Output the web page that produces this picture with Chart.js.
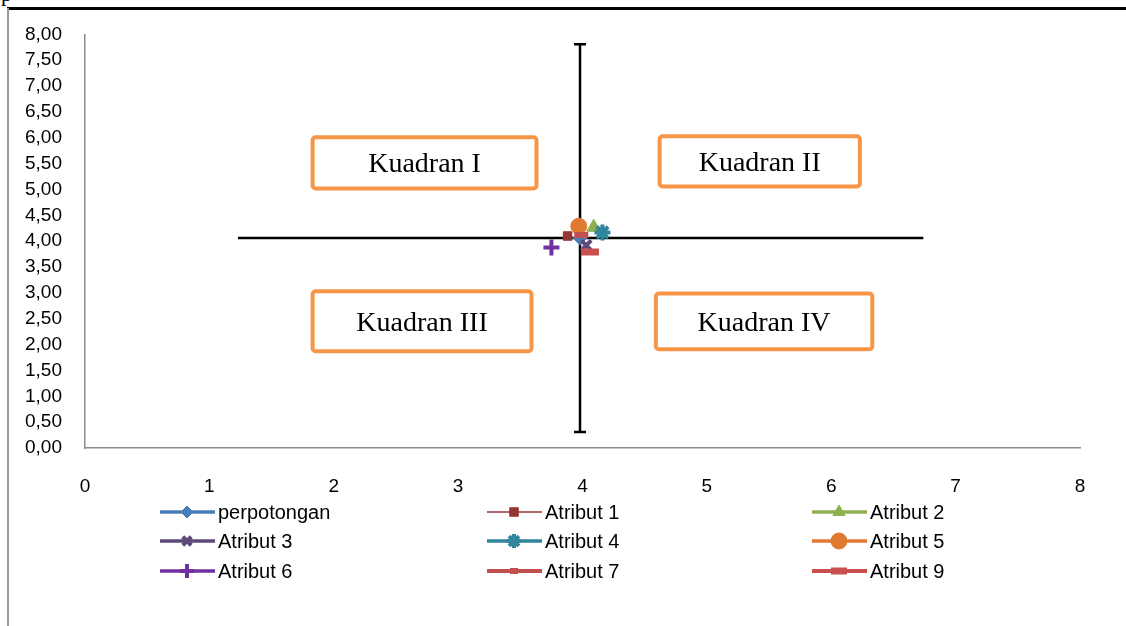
<!DOCTYPE html>
<html>
<head>
<meta charset="utf-8">
<script src="https://cdn.jsdelivr.net/npm/chart.js@4/dist/chart.umd.min.js"></script>
<style>
  html, body { margin: 0; padding: 0; background: #fff; }
  #wrap { position: relative; width: 1126px; height: 626px; overflow: hidden; }
  #topRule { position: absolute; left: 7px; top: 7px; width: 1119px; height: 3px; background: #000; }
  #leftRule { position: absolute; left: 7px; top: 8px; width: 2px; height: 618px; background: #9a9a9a; }
  #cut { position: absolute; left: 1px; top: -19px; font: 22px "Liberation Serif", serif; }
  canvas { position: absolute; left: 0; top: 0; }
</style>
</head>
<body>
<div id="wrap">
  <span id="cut">p</span>
  <div id="topRule"></div>
  <div id="leftRule"></div>
  <canvas id="quadChart" width="1126" height="626"></canvas>
</div>
<script>
// series
const seriesNames = ["perpotongan", "Atribut 1", "Atribut 2", "Atribut 3", "Atribut 4",
                     "Atribut 5", "Atribut 6", "Atribut 7", "Atribut 9"];
const xValues = [3.98, 3.88, 4.09, 4.03, 4.16, 3.97, 3.75, 3.99, 4.06];
const yValues = [4.06, 4.10, 4.27, 3.92, 4.17, 4.29, 3.88, 4.12, 3.79];
// error bars of the "perpotongan" point (the quadrant cross)
const crossXRange = [1.23, 6.74];
const crossYRange = [0.31, 7.81];
const quadrantLabels = ["Kuadran I", "Kuadran II", "Kuadran III", "Kuadran IV"];
const xTicks = { min: 0, max: 8, step: 1 };
const yTicks = { min: 0, max: 8, step: 0.5 };

// styles
const colors = ["#4a7ebb", "#943634", "#8fb04e", "#5f497a", "#31859c",
                "#e07a30", "#7030a0", "#c0504d", "#c9504d"];
const styles = [
  { pointStyle: "rectRot", radius: 7, bw: 1, lw: 3.5, lr: 6 },
  { pointStyle: "rect", radius: 6, bw: 1, lw: 1.5, lr: 6 },
  { pointStyle: "triangle", radius: 8, bw: 1, lw: 3.5, lr: 7 },
  { pointStyle: "crossRot", radius: 7, bw: 4, lw: 3.5, lr: 6 },
  { pointStyle: "star", radius: 8, bw: 4, lw: 3.5, lr: 7 },
  { pointStyle: "circle", radius: 8, bw: 1, lw: 3.5, lr: 8 },
  { pointStyle: "cross", radius: 8, bw: 4, lw: 3.5, lr: 7 },
  { pointStyle: "line", radius: 7, bw: 6, lw: 4, lr: 4 },
  { pointStyle: "line", radius: 9, bw: 7, lw: 4, lr: 8 },
];
// annotation boxes in data units: [x0, x1, y0, y1]
const quadrantBoxes = [
  [1.83, 3.63, 5.02, 6.01],
  [4.62, 6.23, 5.06, 6.03],
  [1.83, 3.59, 1.87, 3.03],
  [4.59, 6.33, 1.91, 2.99],
];

const datasets = seriesNames.map((name, i) => ({
  label: name,
  data: [{ x: xValues[i], y: yValues[i] }],
  backgroundColor: colors[i],
  borderColor: colors[i],
  pointStyle: styles[i].pointStyle,
  pointRadius: styles[i].radius,
  pointBorderWidth: styles[i].bw,
  order: seriesNames.length - i, // later series on top, like the original
}));

const crossPlugin = {
  id: "cross",
  beforeDatasetsDraw(chart) {
    const { ctx, scales: { x, y } } = chart;
    const cx = x.getPixelForValue(xValues[0]);
    const cy = y.getPixelForValue(yValues[0]);
    ctx.save();
    ctx.strokeStyle = "#000";
    ctx.lineWidth = 2.5;
    ctx.beginPath();
    ctx.moveTo(x.getPixelForValue(crossXRange[0]), cy);
    ctx.lineTo(x.getPixelForValue(crossXRange[1]), cy);
    const top = y.getPixelForValue(crossYRange[1]);
    const bot = y.getPixelForValue(crossYRange[0]);
    ctx.moveTo(cx, top);
    ctx.lineTo(cx, bot);
    ctx.moveTo(cx - 6, top);
    ctx.lineTo(cx + 6, top);
    ctx.moveTo(cx - 6, bot);
    ctx.lineTo(cx + 6, bot);
    ctx.stroke();
    ctx.restore();
  },
};

const quadrantPlugin = {
  id: "quadrants",
  afterDatasetsDraw(chart) {
    const { ctx, scales: { x, y } } = chart;
    ctx.save();
    quadrantBoxes.forEach((b, i) => {
      const left = x.getPixelForValue(b[0]);
      const right = x.getPixelForValue(b[1]);
      const top = y.getPixelForValue(b[3]);
      const bottom = y.getPixelForValue(b[2]);
      ctx.fillStyle = "#fff";
      ctx.strokeStyle = "#f79646";
      ctx.lineWidth = 4;
      ctx.beginPath();
      ctx.roundRect(left, top, right - left, bottom - top, 3);
      ctx.fill();
      ctx.stroke();
      ctx.fillStyle = "#000";
      ctx.font = "28px 'Liberation Serif', serif";
      ctx.textAlign = "center";
      ctx.textBaseline = "middle";
      ctx.fillText(quadrantLabels[i], (left + right) / 2, (top + bottom) / 2 + 2);
    });
    ctx.restore();
  },
};

const legendPlugin = {
  id: "gridLegend",
  afterDraw(chart) {
    const ctx = chart.ctx;
    const colX = [160, 487, 812];
    const rowY = [512, 541, 571];
    ctx.save();
    ctx.font = "20px 'Liberation Sans', sans-serif";
    ctx.textBaseline = "middle";
    seriesNames.forEach((name, i) => {
      const lx = colX[i % 3];
      const ly = rowY[Math.floor(i / 3)];
      const st = styles[i];
      ctx.strokeStyle = colors[i];
      ctx.fillStyle = colors[i];
      ctx.lineWidth = st.lw;
      ctx.beginPath();
      ctx.moveTo(lx, ly);
      ctx.lineTo(lx + 55, ly);
      ctx.stroke();
      ctx.lineWidth = st.bw;
      Chart.helpers.drawPoint(ctx, {
        pointStyle: st.pointStyle,
        radius: st.lr,
        rotation: 0,
        borderWidth: st.bw,
      }, lx + 27, ly);
      ctx.fillStyle = "#000";
      ctx.fillText(name, lx + 58, ly + 1);
    });
    ctx.restore();
  },
};

const tickFont = { family: "'Liberation Sans', sans-serif", size: 19 };

new Chart(document.getElementById("quadChart").getContext("2d"), {
  type: "scatter",
  data: { datasets: datasets },
  options: {
    responsive: false,
    animation: false,
    layout: { padding: { left: 0, top: 34, right: 46, bottom: 118 } },
    plugins: { legend: { display: false }, tooltip: { enabled: false } },
    scales: {
      x: {
        type: "linear",
        min: xTicks.min,
        max: xTicks.max,
        ticks: { stepSize: xTicks.step, color: "#000", font: tickFont, padding: 27 },
        grid: { display: false, drawTicks: false },
        border: { display: true, color: "#8c8c8c", width: 1.5 },
        afterFit: (scale) => { scale.height = 60; },
      },
      y: {
        type: "linear",
        min: yTicks.min,
        max: yTicks.max,
        ticks: {
          stepSize: yTicks.step,
          color: "#000",
          font: tickFont,
          padding: 23,
          callback: (v) => v.toFixed(2).replace(".", ","),
        },
        grid: { display: false, drawTicks: false },
        border: { display: true, color: "#8c8c8c", width: 1.5 },
        afterFit: (scale) => { scale.width = 85; },
      },
    },
  },
  plugins: [crossPlugin, quadrantPlugin, legendPlugin],
});
</script>
</body>
</html>
